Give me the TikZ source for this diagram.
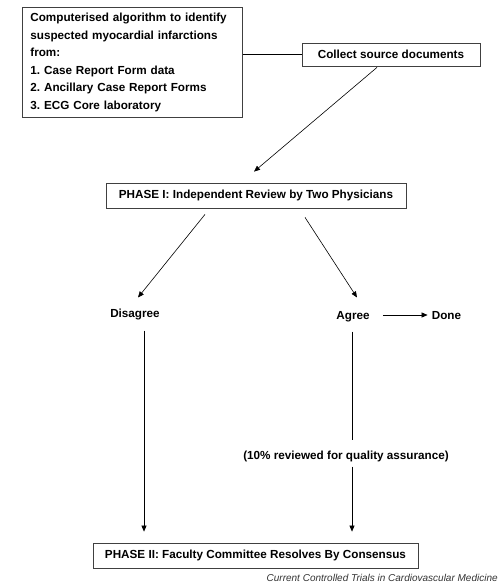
\documentclass[tikz,border=0pt]{standalone}
\usepackage{fontspec}
\setmainfont{Liberation Sans}
\frenchspacing
\usetikzlibrary{
  arrows.meta,
  positioning
}
\usepackage{xcolor}
\definecolor{boxLine}{rgb}{0.25,0.25,0.25}
\definecolor{creditGray}{rgb}{0.2,0.2,0.2}
\tikzset{
  flowBox/.style={
    draw=boxLine,
    line width=0.8pt,
    inner sep=0pt
  },
  plainText/.style={
    inner sep=0pt,
    text height=8.4pt,
    text depth=0pt
  }
}

\begin{document}
\begin{tikzpicture}[
      x=1pt, y=-1pt,
      >={Triangle[length=6pt,width=5pt]},
      line width=0.6pt,
      every node/.style={
        font=\fontsize{11.7}{17.6}\selectfont\bfseries
      }
      ]
      \useasboundingbox (0,0) rectangle (500,585);

      % boxes
      \node[flowBox, anchor=north west, minimum width=220pt, minimum height=110pt,
            text width=204pt, inner xsep=8pt, align=left] (algo) at (22,7)
        {Computerised algorithm to identify\\
         suspected myocardial infarctions\\
         from:\\
         1. Case Report Form data\\
         2. Ancillary Case Report Forms\\
         3. ECG Core laboratory};
      \node[flowBox, minimum width=178pt, minimum height=23pt] (collect) at (391,54.5)
        {Collect source documents};
      \node[flowBox, minimum width=300pt, minimum height=25pt] (phaseI) at (256,195.5)
        {PHASE I: Independent Review by Two Physicians};
      \node[flowBox, minimum width=325pt, minimum height=25pt] (phaseII) at (255.5,555.5)
        {PHASE II: Faculty Committee Resolves By Consensus};

      % plain labels
      \node[plainText] (disagree) at (135,313) {Disagree};
      \node[plainText] (agree) at (353,315) {Agree};
      \node[plainText] (done) at (446.5,315) {Done};
      \node[plainText] (sample) at (346,455) {(10\% reviewed for quality assurance)};
      \node[anchor=east, inner sep=0pt, text=creditGray,
            font=\fontsize{10}{12}\selectfont\itshape] (credit) at (498,578)
        {Current Controlled Trials in Cardiovascular Medicine};

      % connectors
      \draw (algo.east |- collect.west) -- (collect.west);
      \draw[->] ([xshift=-14pt,yshift=-1pt]collect.south) -- ([xshift=-2pt,yshift=11pt]phaseI.north);
      \draw[->] ([xshift=-51pt,yshift=-6pt]phaseI.south) -- ([xshift=3pt,yshift=11pt]disagree.north);
      \draw[->] ([xshift=49pt,yshift=-9pt]phaseI.south) -- ([xshift=4pt,yshift=13pt]agree.north);
      \draw[->, shorten <=13pt, shorten >=4pt] (agree) -- (done);
      \draw[->] ([xshift=9pt,yshift=-13pt]disagree.south) -- ([xshift=-111.5pt,yshift=11pt]phaseII.north);
      \draw ([xshift=-1pt,yshift=-12pt]agree.south) -- ([xshift=6pt,yshift=11pt]sample.north);
      \draw[->] ([xshift=6pt,yshift=-7pt]sample.south) -- ([xshift=96.5pt,yshift=11pt]phaseII.north);
    \end{tikzpicture}
\end{document}
